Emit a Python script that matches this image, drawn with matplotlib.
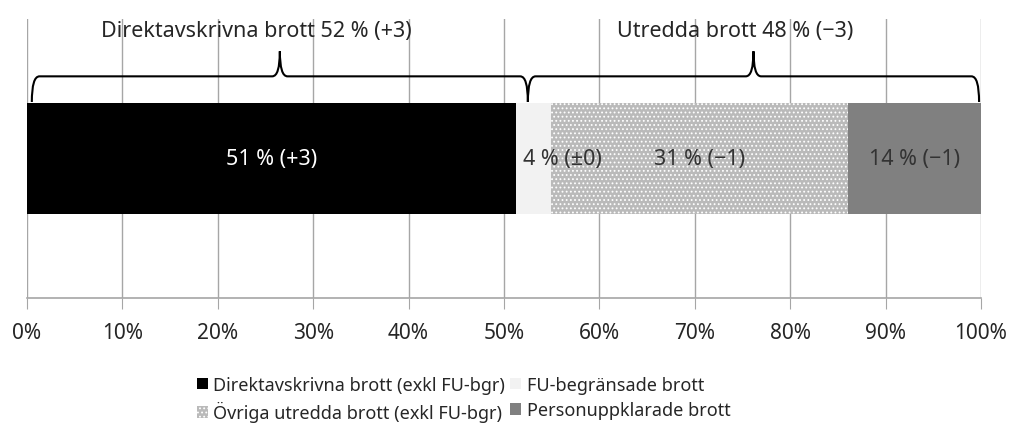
import matplotlib
matplotlib.use('Agg')
import matplotlib.pyplot as plt
from matplotlib.path import Path
from matplotlib.patches import PathPatch

plt.rcParams['font.family'] = ['Noto Sans', 'DejaVu Sans']
plt.rcParams['hatch.linewidth'] = 0.8

# andelar (%) per kategori
kategorier = ['Direktavskrivna brott (exkl FU-bgr)', 'FU-begränsade brott',
              'Övriga utredda brott (exkl FU-bgr)', 'Personuppklarade brott']
andelar = [51.3, 3.6, 31.2, 13.9]
etiketter = ['51 % (+3)', '4 % (±0)', '31 % (−1)', '14 % (−1)']
farger = ['#000000', '#f2f2f2', '#bababa', '#808080']
monster = [None, None, '....', None]
textfarg = ['white', '#333333', '#333333', '#333333']

# grupper ovanför stapeln
grupper = ['Direktavskrivna brott 52 % (+3)', 'Utredda brott 48 % (−3)']
grupp_spann = [(0.5, 52.5), (52.5, 99.8)]
grupp_text_x = [24.0, 74.2]

fig = plt.figure(figsize=(10.13, 4.39), dpi=100)
ax = fig.add_axes([0.0267, 0.319, 0.9417, 0.635])

left = 0
for i in range(len(andelar)):
    ec = 'white' if monster[i] else farger[i]
    ax.barh(0.5, andelar[i], left=left, height=0.4, color=farger[i],
            edgecolor=ec, linewidth=0, hatch=monster[i], label=kategorier[i], zorder=3)
    if i == 1:
        ax.text(left + 0.7, 0.5, etiketter[i], ha='left', va='center',
                color=textfarg[i], fontsize=15.5, zorder=5)
    else:
        ax.text(left + andelar[i] / 2, 0.5, etiketter[i], ha='center', va='center',
                color=textfarg[i], fontsize=15.5, zorder=5)
    left += andelar[i]

# klammerparenteser
def klammer(x0, x1, yb=0.703, yh=0.795, yt=0.885, r=0.8):
    xm = (x0 + x1) / 2
    verts = [(x0, yb), (x0, yh), (x0 + r, yh),
             (xm - r, yh), (xm, yh), (xm, yt),
             (xm, yh), (xm + r, yh),
             (x1 - r, yh), (x1, yh), (x1, yb)]
    codes = [Path.MOVETO, Path.CURVE3, Path.CURVE3,
             Path.LINETO, Path.CURVE3, Path.CURVE3,
             Path.CURVE3, Path.CURVE3,
             Path.LINETO, Path.CURVE3, Path.CURVE3]
    ax.add_patch(PathPatch(Path(verts, codes), fill=False, lw=1.5,
                           edgecolor='black', zorder=4, capstyle='butt'))

for (a, b), txt, tx in zip(grupp_spann, grupper, grupp_text_x):
    klammer(a, b)
    ax.text(tx, 0.96, txt, ha='center', va='center', fontsize=15.5, color='#262626')

ax.set_xlim(0, 100)
ax.set_ylim(0, 1)
ax.set_xticks(range(0, 101, 10))
ax.set_xticklabels([f'{v}%' for v in range(0, 101, 10)], fontsize=15, color='#262626')
ax.set_yticks([])
ax.grid(axis='x', color='#a6a6a6', linewidth=1, zorder=0)
for s in ['top', 'right', 'left']:
    ax.spines[s].set_visible(False)
ax.spines['bottom'].set_color('#a6a6a6')
ax.spines['bottom'].set_linewidth(1.2)
ax.tick_params(axis='x', length=8, color='#a6a6a6', pad=9)

h, l = ax.get_legend_handles_labels()
order = [0, 2, 1, 3]
ax.legend([h[i] for i in order], [l[i] for i in order], ncol=2,
          loc='upper left', bbox_to_anchor=(0.161, -0.222), frameon=False,
          fontsize=13, handlelength=0.6, handleheight=0.6, handletextpad=0.3,
          columnspacing=0.3, labelspacing=0.4, labelcolor='#262626')

fig.savefig('out.png', dpi=100)
